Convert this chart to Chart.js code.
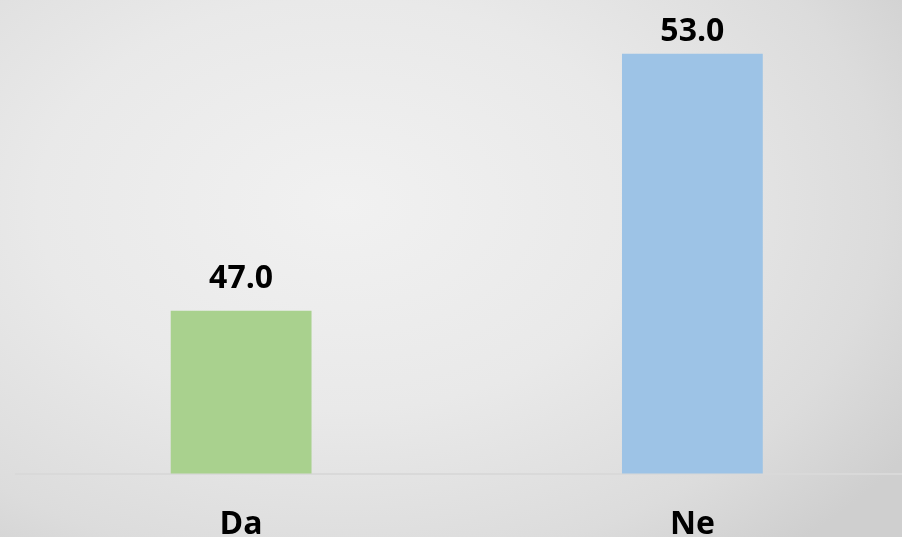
<!DOCTYPE html>
<html>
<head>
<meta charset="utf-8">
<script src="https://cdn.jsdelivr.net/npm/chart.js@4"></script>
<style>
    html, body {
        margin: 0;
        padding: 0;
        width: 902px;
        height: 537px;
        overflow: hidden;
    }
    body {
        background: radial-gradient(ellipse 75% 85% at 38% 38%, #f1f1f1 0%, #e9e9e9 45%, #dcdcdc 80%, #cfcfcf 100%);
    }
    #wrap {
        position: relative;
        width: 918px;
        height: 569px;
    }
</style>
</head>
<body>
<div id="wrap"><canvas id="myChart"></canvas></div>
<script>
const categories = ['Da', 'Ne'];
const values = [47.0, 53.0];
const barColors = ['#a9d18e', '#9dc3e6'];
const yMin = 43.2;
const yMax = 54;

// value labels above bars (no datalabels plugin available offline)
const valueLabels = {
    id: 'valueLabels',
    afterDatasetsDraw(chart) {
        const ctx = chart.ctx;
        const meta = chart.getDatasetMeta(0);
        ctx.save();
        ctx.font = 'bold 32px "Open Sans"';
        ctx.fillStyle = '#000';
        ctx.textAlign = 'center';
        ctx.textBaseline = 'alphabetic';
        meta.data.forEach((bar, i) => {
            let y = Math.max(bar.y - 23, 41);
            ctx.fillText(values[i].toFixed(1), bar.x, y);
        });
        ctx.restore();
    }
};

const ctx = document.getElementById('myChart').getContext('2d');
const myChart = new Chart(ctx, {
    type: 'bar',
    data: {
        labels: categories,
        datasets: [{
            data: values,
            backgroundColor: barColors,
            borderWidth: 0,
            barPercentage: 0.312,
            categoryPercentage: 1
        }]
    },
    options: {
        responsive: true,
        maintainAspectRatio: false,
        animation: false,
        layout: {
            padding: { left: 15.5, right: 0, top: 11, bottom: 0 }
        },
        plugins: {
            legend: { display: false },
            tooltip: { enabled: false }
        },
        scales: {
            x: {
                grid: { display: false },
                border: { display: true, color: '#d9d9d9', width: 2 },
                ticks: {
                    color: '#000',
                    padding: 24.5,
                    font: { family: 'Open Sans', size: 32, weight: 'bold' }
                }
            },
            y: {
                display: false,
                min: yMin,
                max: yMax
            }
        }
    },
    plugins: [valueLabels]
});
</script>
</body>
</html>
